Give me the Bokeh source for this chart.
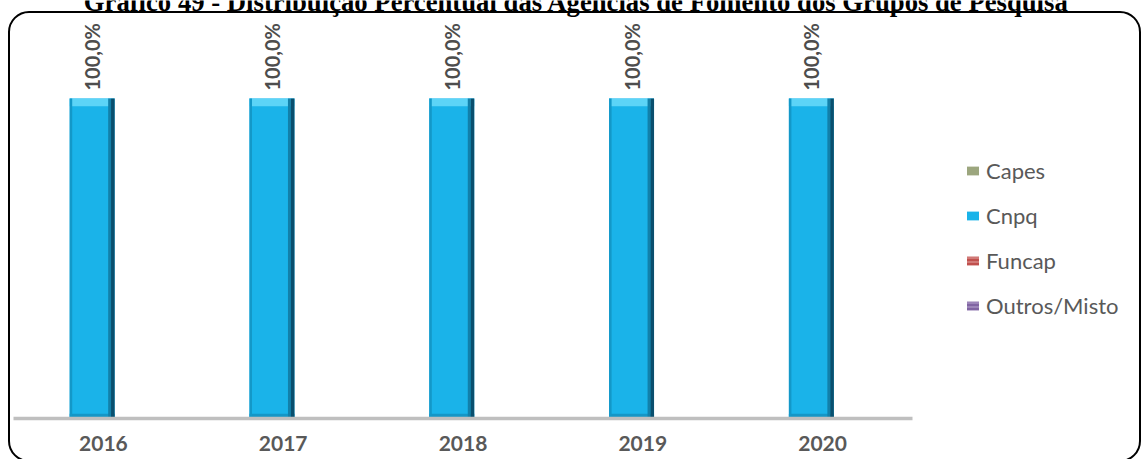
import math
from urllib.parse import quote
from bokeh.plotting import figure
from bokeh.models import (ColumnDataSource, Range1d, FixedTicker, Legend, LegendItem, Label)
from bokeh.transform import dodge
from bokeh.core.properties import value
from bokeh.embed import file_html
from bokeh.resources import INLINE

# ---- data ----
years = ["2016", "2017", "2018", "2019", "2020"]
capes = [0.0, 0.0, 0.0, 0.0, 0.0]
cnpq = [100.0, 100.0, 100.0, 100.0, 100.0]
funcap = [0.0, 0.0, 0.0, 0.0, 0.0]
outros = [0.0, 0.0, 0.0, 0.0, 0.0]
cnpq_labels = ["100,0%", "100,0%", "100,0%", "100,0%", "100,0%"]
series_names = ["Capes", "Cnpq", "Funcap", "Outros/Misto"]
title_text = "Gráfico 49 - Distribuição Percentual das Agências de Fomento dos Grupos de Pesquisa"

xi = list(range(len(years)))
src = ColumnDataSource(dict(xi=xi, year=years, capes=capes, cnpq=cnpq, funcap=funcap,
                            outros=outros, label=cnpq_labels,
                            cnpq_top_bevel=[v - 2.4 for v in cnpq],
                            cnpq_bot_bevel=[min(v, 1.5) for v in cnpq]))

# layout: one category = 179.8 px, plot frame spans the whole canvas width
CAT_PX = 179.8
x_start = -102.9 / CAT_PX
x_end = x_start + 1141 / CAT_PX
p = figure(x_range=Range1d(x_start, x_end), y_range=Range1d(0, 418 / 3.2),
           width=1141, height=459, output_backend="svg", toolbar_location=None,
           min_border_left=0, min_border_right=0, min_border_top=0, min_border_bottom=41)
p.outline_line_color = None
p.xgrid.grid_line_color = None
p.ygrid.grid_line_color = None
p.yaxis.visible = False
p.background_fill_color = None
p.border_fill_color = None

# rounded chart-area border (Excel chart frame), drawn behind the transparent canvas
frame_svg = ("<svg xmlns='http://www.w3.org/2000/svg' width='1141' height='459'>"
             "<rect x='9' y='12' width='1131' height='449' rx='20' ry='20' "
             "fill='white' stroke='black' stroke-width='2'/></svg>")
p.styles = {"background-image": 'url("data:image/svg+xml,' + quote(frame_svg) + '")',
            "background-repeat": "no-repeat",
            "background-color": "white"}

ax = p.xaxis[0]
ax.ticker = FixedTicker(ticks=xi)
ax.major_label_overrides = {i: y for i, y in zip(xi, years)}
ax.bounds = (xi[0] - 0.5, xi[-1] + 0.5)
ax.axis_line_color = "#BFBFBF"
ax.axis_line_width = 3.5
ax.major_tick_line_color = None
ax.minor_tick_line_color = None
ax.major_label_text_font = "Lato"
ax.major_label_text_font_style = "bold"
ax.major_label_text_font_size = "21px"
ax.major_label_text_color = "#595959"
ax.major_label_standoff = 11

W = 0.25
off = {"Capes": -0.1875, "Cnpq": -0.0625, "Funcap": 0.0625, "Outros/Misto": 0.1875}

r_capes = p.vbar(x=dodge("xi", off["Capes"]), top="capes", width=W,
                 source=src, fill_color="#9CA67E", line_color=None)
r_cnpq = p.vbar(x=dodge("xi", off["Cnpq"]), top="cnpq", width=W,
                source=src, fill_color="#1AB3E9", line_color=None)
# bevel shading on the Cnpq bars
p.vbar(x=dodge("xi", off["Cnpq"]), top="cnpq", bottom="cnpq_top_bevel",
       width=W, source=src, fill_color="#5CD4F7", line_color=None)
p.vbar(x=dodge("xi", off["Cnpq"]), top="cnpq_bot_bevel", width=W,
       source=src, fill_color="#1596C6", line_color=None)
p.vbar(x=dodge("xi", off["Cnpq"] - W / 2 + 0.007), top="cnpq", width=0.014,
       source=src, fill_color="#1398C8", line_color=None)
p.vbar(x=dodge("xi", off["Cnpq"] + W / 2 - 0.028), top="cnpq", width=0.016,
       source=src, fill_color="#1280AA", line_color=None)
p.vbar(x=dodge("xi", off["Cnpq"] + W / 2 - 0.01), top="cnpq", width=0.02,
       source=src, fill_color="#0A4F6E", line_color=None)
r_funcap = p.vbar(x=dodge("xi", off["Funcap"]), top="funcap", width=W,
                  source=src, fill_color="#C0504D", line_color=None,
                  hatch_pattern="horizontal_line", hatch_color="#E3A3A1", hatch_scale=4, hatch_weight=1)
r_outros = p.vbar(x=dodge("xi", off["Outros/Misto"]), top="outros", width=W,
                  source=src, fill_color="#8064A2", line_color=None,
                  hatch_pattern="horizontal_line", hatch_color="#B8A6D0", hatch_scale=4, hatch_weight=1)

p.text(x=dodge("xi", off["Cnpq"]), y="cnpq", text="label", source=src,
       angle=math.pi / 2, text_align="left", text_baseline="middle", y_offset=-8,
       text_font=value("Lato"), text_font_style="bold", text_font_size="20px",
       text_color="#4D4D4D")

legend = Legend(items=[LegendItem(label=series_names[0], renderers=[r_capes]),
                       LegendItem(label=series_names[1], renderers=[r_cnpq]),
                       LegendItem(label=series_names[2], renderers=[r_funcap]),
                       LegendItem(label=series_names[3], renderers=[r_outros])],
                location=(965, 99), glyph_width=15, glyph_height=11, label_height=20,
                spacing=18, label_standoff=6, padding=0, margin=0,
                border_line_color=None, background_fill_alpha=0,
                label_text_font="Lato", label_text_font_size="22px",
                label_text_color="#595959")
p.add_layout(legend, "center")

p.add_layout(Label(x=576, y=1, x_units="canvas", y_units="canvas", text=title_text,
                   text_align="center", text_baseline="alphabetic",
                   text_font="Liberation Serif", text_font_style="bold",
                   text_font_size="26.7px", text_color="black"))

open("out.html", "w").write(file_html(p, INLINE))
